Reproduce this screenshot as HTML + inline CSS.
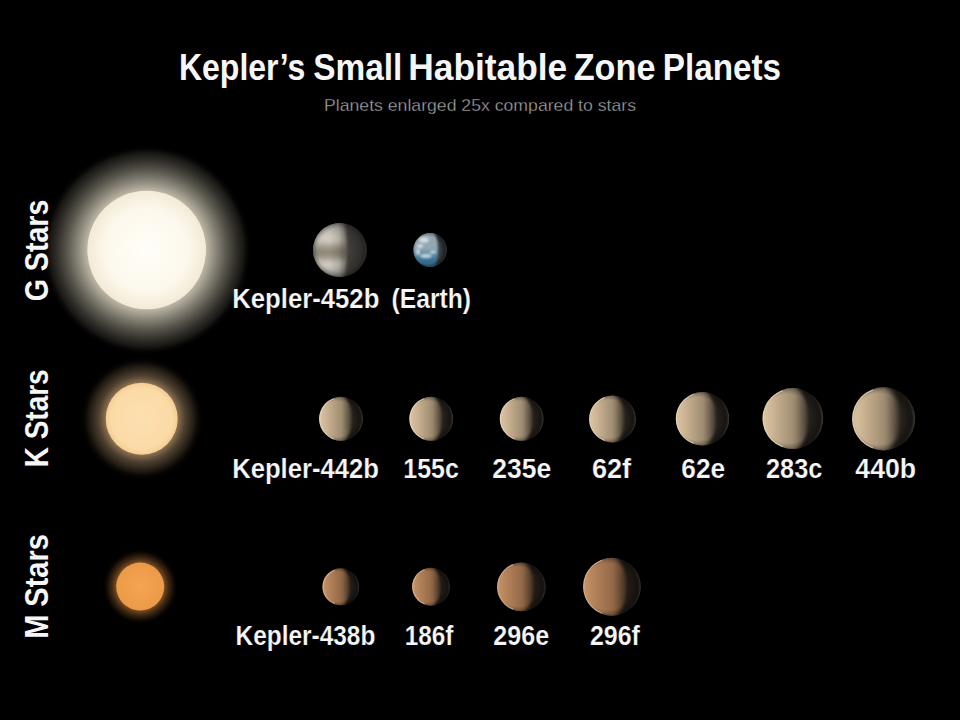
<!DOCTYPE html>
<html><head><meta charset="utf-8">
<style>
html,body{margin:0;padding:0;background:#000;width:960px;height:720px;overflow:hidden}
svg{display:block}
text{font-family:"Liberation Sans",sans-serif;font-weight:bold;fill:#f6f6f6;stroke:#000;stroke-width:0.2px}
</style></head>
<body>
<svg width="960" height="720" viewBox="0 0 960 720">
<defs>
  <!-- star glows -->
  <radialGradient id="gGlow" cx="0.5" cy="0.5" r="0.5">
    <stop offset="0" stop-color="#fffbee"/>
    <stop offset="0.55" stop-color="#f4ecdc"/>
    <stop offset="0.565" stop-color="#bcb6a6"/>
    <stop offset="0.667" stop-color="#868276"/>
    <stop offset="0.762" stop-color="#58554c"/>
    <stop offset="0.857" stop-color="#302e29"/>
    <stop offset="0.924" stop-color="#181714"/>
    <stop offset="1" stop-color="#000" stop-opacity="0"/>
  </radialGradient>
  <radialGradient id="gDisk" cx="0.5" cy="0.5" r="0.5">
    <stop offset="0" stop-color="#fffef8"/>
    <stop offset="0.7" stop-color="#fdf8ec"/>
    <stop offset="1" stop-color="#f3ead6"/>
  </radialGradient>
  <radialGradient id="kGlow" cx="0.5" cy="0.5" r="0.5">
    <stop offset="0.58" stop-color="#8a7050"/>
    <stop offset="0.7" stop-color="#4e4030"/>
    <stop offset="0.85" stop-color="#201a12"/>
    <stop offset="1" stop-color="#000" stop-opacity="0"/>
  </radialGradient>
  <radialGradient id="kDisk" cx="0.5" cy="0.5" r="0.5">
    <stop offset="0" stop-color="#fde0b0"/>
    <stop offset="0.85" stop-color="#fbdaa6"/>
    <stop offset="1" stop-color="#f4cc94"/>
  </radialGradient>
  <radialGradient id="mGlow" cx="0.5" cy="0.5" r="0.5">
    <stop offset="0.63" stop-color="#7a4a22"/>
    <stop offset="0.75" stop-color="#3e2812"/>
    <stop offset="0.88" stop-color="#140c06"/>
    <stop offset="1" stop-color="#000" stop-opacity="0"/>
  </radialGradient>
  <radialGradient id="mDisk" cx="0.5" cy="0.5" r="0.5">
    <stop offset="0" stop-color="#f6a450"/>
    <stop offset="1" stop-color="#eb9a48"/>
  </radialGradient>
  <!-- planet shading -->
  <linearGradient id="kPlanet" x1="0" y1="0" x2="1" y2="0">
    <stop offset="0" stop-color="#d9c29a"/>
    <stop offset="0.35" stop-color="#cfb790"/>
    <stop offset="0.62" stop-color="#9c8a6c"/>
    <stop offset="0.72" stop-color="#4a4034"/>
    <stop offset="1" stop-color="#2a241e"/>
  </linearGradient>
  <linearGradient id="mPlanet" x1="0" y1="0" x2="1" y2="0">
    <stop offset="0" stop-color="#c08a5a"/>
    <stop offset="0.35" stop-color="#b07848"/>
    <stop offset="0.62" stop-color="#7a5434"/>
    <stop offset="0.72" stop-color="#342418"/>
    <stop offset="1" stop-color="#1e1610"/>
  </linearGradient>
  <clipPath id="c452"><circle cx="340" cy="250" r="27.1"/></clipPath>
  <clipPath id="cEarth"><circle cx="430.2" cy="250" r="17"/></clipPath>
  <radialGradient id="d452" gradientUnits="userSpaceOnUse" cx="330" cy="250" r="38">
    <stop offset="0.4" stop-color="#46433e"/><stop offset="0.9" stop-color="#2c2a28"/><stop offset="1" stop-color="#363432"/>
  </radialGradient>
  <linearGradient id="v452" x1="0" y1="0" x2="0" y2="1">
    <stop offset="0.05" stop-color="#9a968e"/>
    <stop offset="0.2" stop-color="#c8c4ba"/>
    <stop offset="0.33" stop-color="#d6d2c6"/>
    <stop offset="0.45" stop-color="#a49c8c"/>
    <stop offset="0.55" stop-color="#8c8474"/>
    <stop offset="0.64" stop-color="#a8a294"/>
    <stop offset="0.74" stop-color="#dad6cc"/>
    <stop offset="0.86" stop-color="#b4b0a8"/>
    <stop offset="1" stop-color="#7a7670"/>
  </linearGradient>
  <linearGradient id="h452" gradientUnits="userSpaceOnUse" x1="313" y1="0" x2="346" y2="0">
    <stop offset="0" stop-color="#000" stop-opacity="0.05"/>
    <stop offset="0.5" stop-color="#000" stop-opacity="0"/>
    <stop offset="0.8" stop-color="#000" stop-opacity="0.15"/>
    <stop offset="1" stop-color="#000" stop-opacity="0.45"/>
  </linearGradient>
  <radialGradient id="dEarth" gradientUnits="userSpaceOnUse" cx="426" cy="250" r="21">
    <stop offset="0.5" stop-color="#3e464c"/><stop offset="0.9" stop-color="#2c3236"/><stop offset="1" stop-color="#363c40"/>
  </radialGradient>
  <linearGradient id="vEarth" x1="0" y1="0" x2="0" y2="1">
    <stop offset="0" stop-color="#9aa6ac"/>
    <stop offset="0.45" stop-color="#93a8b4"/>
    <stop offset="0.75" stop-color="#3a7496"/>
    <stop offset="1" stop-color="#2a5670"/>
  </linearGradient>
<clipPath id="ck0"><circle cx="341" cy="418.8" r="22"/></clipPath>
<linearGradient id="lk0" gradientUnits="userSpaceOnUse" x1="319" y1="0" x2="352.0" y2="0">
<stop offset="0" stop-color="#dcc6a6"/><stop offset="0.25" stop-color="#cab292"/><stop offset="0.7" stop-color="#9c8a70"/><stop offset="1" stop-color="#3e362c"/></linearGradient>
<radialGradient id="dk0" gradientUnits="userSpaceOnUse" cx="335.5" cy="418.8" r="27.5">
<stop offset="0.55" stop-color="#221e1a"/><stop offset="0.92" stop-color="#221e1a"/><stop offset="1" stop-color="#5a5650"/></radialGradient>
<clipPath id="ck1"><circle cx="431.2" cy="418.8" r="22"/></clipPath>
<linearGradient id="lk1" gradientUnits="userSpaceOnUse" x1="409.2" y1="0" x2="442.2" y2="0">
<stop offset="0" stop-color="#dcc6a6"/><stop offset="0.25" stop-color="#cab292"/><stop offset="0.7" stop-color="#9c8a70"/><stop offset="1" stop-color="#3e362c"/></linearGradient>
<radialGradient id="dk1" gradientUnits="userSpaceOnUse" cx="425.7" cy="418.8" r="27.5">
<stop offset="0.55" stop-color="#221e1a"/><stop offset="0.92" stop-color="#221e1a"/><stop offset="1" stop-color="#5a5650"/></radialGradient>
<clipPath id="ck2"><circle cx="521.7" cy="418.8" r="22"/></clipPath>
<linearGradient id="lk2" gradientUnits="userSpaceOnUse" x1="499.70000000000005" y1="0" x2="532.7" y2="0">
<stop offset="0" stop-color="#dcc6a6"/><stop offset="0.25" stop-color="#cab292"/><stop offset="0.7" stop-color="#9c8a70"/><stop offset="1" stop-color="#3e362c"/></linearGradient>
<radialGradient id="dk2" gradientUnits="userSpaceOnUse" cx="516.2" cy="418.8" r="27.5">
<stop offset="0.55" stop-color="#221e1a"/><stop offset="0.92" stop-color="#221e1a"/><stop offset="1" stop-color="#5a5650"/></radialGradient>
<clipPath id="ck3"><circle cx="612.5" cy="419" r="23.5"/></clipPath>
<linearGradient id="lk3" gradientUnits="userSpaceOnUse" x1="589.0" y1="0" x2="624.25" y2="0">
<stop offset="0" stop-color="#dcc6a6"/><stop offset="0.25" stop-color="#cab292"/><stop offset="0.7" stop-color="#9c8a70"/><stop offset="1" stop-color="#3e362c"/></linearGradient>
<radialGradient id="dk3" gradientUnits="userSpaceOnUse" cx="606.625" cy="419" r="29.375">
<stop offset="0.55" stop-color="#221e1a"/><stop offset="0.92" stop-color="#221e1a"/><stop offset="1" stop-color="#5a5650"/></radialGradient>
<clipPath id="ck4"><circle cx="702.5" cy="418.8" r="26.8"/></clipPath>
<linearGradient id="lk4" gradientUnits="userSpaceOnUse" x1="675.7" y1="0" x2="715.9" y2="0">
<stop offset="0" stop-color="#dcc6a6"/><stop offset="0.25" stop-color="#cab292"/><stop offset="0.7" stop-color="#9c8a70"/><stop offset="1" stop-color="#3e362c"/></linearGradient>
<radialGradient id="dk4" gradientUnits="userSpaceOnUse" cx="695.8" cy="418.8" r="33.5">
<stop offset="0.55" stop-color="#221e1a"/><stop offset="0.92" stop-color="#221e1a"/><stop offset="1" stop-color="#5a5650"/></radialGradient>
<clipPath id="ck5"><circle cx="792.9" cy="418.6" r="30.5"/></clipPath>
<linearGradient id="lk5" gradientUnits="userSpaceOnUse" x1="762.4" y1="0" x2="808.15" y2="0">
<stop offset="0" stop-color="#dcc6a6"/><stop offset="0.25" stop-color="#cab292"/><stop offset="0.7" stop-color="#9c8a70"/><stop offset="1" stop-color="#3e362c"/></linearGradient>
<radialGradient id="dk5" gradientUnits="userSpaceOnUse" cx="785.275" cy="418.6" r="38.125">
<stop offset="0.55" stop-color="#221e1a"/><stop offset="0.92" stop-color="#221e1a"/><stop offset="1" stop-color="#5a5650"/></radialGradient>
<clipPath id="ck6"><circle cx="883.6" cy="418.9" r="31.6"/></clipPath>
<linearGradient id="lk6" gradientUnits="userSpaceOnUse" x1="852.0" y1="0" x2="899.4" y2="0">
<stop offset="0" stop-color="#dcc6a6"/><stop offset="0.25" stop-color="#cab292"/><stop offset="0.7" stop-color="#9c8a70"/><stop offset="1" stop-color="#3e362c"/></linearGradient>
<radialGradient id="dk6" gradientUnits="userSpaceOnUse" cx="875.7" cy="418.9" r="39.5">
<stop offset="0.55" stop-color="#221e1a"/><stop offset="0.92" stop-color="#221e1a"/><stop offset="1" stop-color="#5a5650"/></radialGradient>
<clipPath id="cm0"><circle cx="340.8" cy="586.8" r="18.5"/></clipPath>
<linearGradient id="lm0" gradientUnits="userSpaceOnUse" x1="322.3" y1="0" x2="350.05" y2="0">
<stop offset="0" stop-color="#c69668"/><stop offset="0.25" stop-color="#b4825a"/><stop offset="0.7" stop-color="#926848"/><stop offset="1" stop-color="#3c2c1e"/></linearGradient>
<radialGradient id="dm0" gradientUnits="userSpaceOnUse" cx="336.175" cy="586.8" r="23.125">
<stop offset="0.55" stop-color="#201a16"/><stop offset="0.92" stop-color="#201a16"/><stop offset="1" stop-color="#4a4440"/></radialGradient>
<clipPath id="cm1"><circle cx="431" cy="586.7" r="19"/></clipPath>
<linearGradient id="lm1" gradientUnits="userSpaceOnUse" x1="412" y1="0" x2="440.5" y2="0">
<stop offset="0" stop-color="#c69668"/><stop offset="0.25" stop-color="#b4825a"/><stop offset="0.7" stop-color="#926848"/><stop offset="1" stop-color="#3c2c1e"/></linearGradient>
<radialGradient id="dm1" gradientUnits="userSpaceOnUse" cx="426.25" cy="586.7" r="23.75">
<stop offset="0.55" stop-color="#201a16"/><stop offset="0.92" stop-color="#201a16"/><stop offset="1" stop-color="#4a4440"/></radialGradient>
<clipPath id="cm2"><circle cx="521.4" cy="586.9" r="24.4"/></clipPath>
<linearGradient id="lm2" gradientUnits="userSpaceOnUse" x1="497.0" y1="0" x2="533.6" y2="0">
<stop offset="0" stop-color="#c69668"/><stop offset="0.25" stop-color="#b4825a"/><stop offset="0.7" stop-color="#926848"/><stop offset="1" stop-color="#3c2c1e"/></linearGradient>
<radialGradient id="dm2" gradientUnits="userSpaceOnUse" cx="515.3" cy="586.9" r="30.5">
<stop offset="0.55" stop-color="#201a16"/><stop offset="0.92" stop-color="#201a16"/><stop offset="1" stop-color="#4a4440"/></radialGradient>
<clipPath id="cm3"><circle cx="612" cy="586.7" r="29"/></clipPath>
<linearGradient id="lm3" gradientUnits="userSpaceOnUse" x1="583" y1="0" x2="626.5" y2="0">
<stop offset="0" stop-color="#c69668"/><stop offset="0.25" stop-color="#b4825a"/><stop offset="0.7" stop-color="#926848"/><stop offset="1" stop-color="#3c2c1e"/></linearGradient>
<radialGradient id="dm3" gradientUnits="userSpaceOnUse" cx="604.75" cy="586.7" r="36.25">
<stop offset="0.55" stop-color="#201a16"/><stop offset="0.92" stop-color="#201a16"/><stop offset="1" stop-color="#4a4440"/></radialGradient>
<radialGradient id="limbdark2" cx="0.5" cy="0.5" r="0.5"><stop offset="0.8" stop-color="#000" stop-opacity="0"/><stop offset="1" stop-color="#000" stop-opacity="0.2"/></radialGradient>
<radialGradient id="limbdark" cx="0.42" cy="0.5" r="0.5"><stop offset="0.8" stop-color="#000" stop-opacity="0"/><stop offset="1" stop-color="#000" stop-opacity="0.3"/></radialGradient>
<filter id="bl6" x="-30%" y="-30%" width="160%" height="160%"><feGaussianBlur stdDeviation="0.6"/></filter>
<filter id="bl10" x="-30%" y="-30%" width="160%" height="160%"><feGaussianBlur stdDeviation="1.0"/></filter>
<filter id="bl11" x="-30%" y="-30%" width="160%" height="160%"><feGaussianBlur stdDeviation="1.1"/></filter>
<filter id="bl12" x="-30%" y="-30%" width="160%" height="160%"><feGaussianBlur stdDeviation="1.2"/></filter>
<filter id="bl13" x="-30%" y="-30%" width="160%" height="160%"><feGaussianBlur stdDeviation="1.3"/></filter>
<filter id="bl14" x="-30%" y="-30%" width="160%" height="160%"><feGaussianBlur stdDeviation="1.4"/></filter>
<filter id="bl15" x="-30%" y="-30%" width="160%" height="160%"><feGaussianBlur stdDeviation="1.5"/></filter>
<filter id="bl16" x="-30%" y="-30%" width="160%" height="160%"><feGaussianBlur stdDeviation="1.6"/></filter>
<filter id="bl17" x="-30%" y="-30%" width="160%" height="160%"><feGaussianBlur stdDeviation="1.7"/></filter>
<filter id="bl18" x="-30%" y="-30%" width="160%" height="160%"><feGaussianBlur stdDeviation="1.8"/></filter>
<filter id="bl19" x="-30%" y="-30%" width="160%" height="160%"><feGaussianBlur stdDeviation="1.9"/></filter>
<filter id="bl22" x="-30%" y="-30%" width="160%" height="160%"><feGaussianBlur stdDeviation="2.2"/></filter>
</defs>
<rect width="960" height="720" fill="#000"/>

<!-- title -->
<text x="324" y="110.5" font-size="17" font-weight="normal" style="font-weight:normal;fill:#a0a0a0;stroke:#000;stroke-width:0.3px" textLength="312" lengthAdjust="spacingAndGlyphs">Planets enlarged 25x compared to stars</text>

<!-- stars -->
<circle cx="146.7" cy="250" r="105" fill="url(#gGlow)"/>
<circle cx="146.7" cy="250" r="59.3" fill="url(#gDisk)"/>
<circle cx="141.7" cy="418.8" r="62" fill="url(#kGlow)"/>
<circle cx="141.7" cy="418.8" r="36" fill="url(#kDisk)"/>
<circle cx="140.2" cy="586.6" r="38" fill="url(#mGlow)"/>
<circle cx="140.2" cy="586.6" r="24" fill="url(#mDisk)"/>

<!-- row labels (rotated) -->
<text transform="translate(48.3,301.3) rotate(-90)" style="stroke:none" font-size="33" textLength="101.6" lengthAdjust="spacingAndGlyphs">G Stars</text>
<text transform="translate(48.3,467.2) rotate(-90)" style="stroke:none" font-size="33" textLength="97.8" lengthAdjust="spacingAndGlyphs">K Stars</text>
<text transform="translate(48.3,638.8) rotate(-90)" style="stroke:none" font-size="33" textLength="104.6" lengthAdjust="spacingAndGlyphs">M Stars</text>

<!-- G row planets -->
<g clip-path="url(#c452)">
<circle cx="340" cy="250" r="27.1" fill="url(#d452)"/>
<g filter="url(#bl22)">
<path d="M341,221 A29,29 0 0 0 341,279 A4,29 0 0 0 341,221Z" fill="url(#v452)"/>
</g>
<path d="M341,221 A29,29 0 0 0 341,279 A3,29 0 0 0 341,221Z" fill="url(#h452)" filter="url(#bl15)"/>
<circle cx="340" cy="250" r="27.1" fill="url(#limbdark2)"/>
</g>
<g clip-path="url(#cEarth)">
<circle cx="430.2" cy="250" r="17" fill="url(#dEarth)"/>
<path d="M432,231 A19,19 0 0 0 432,269 A6,19 0 0 0 432,231Z" fill="url(#vEarth)" filter="url(#bl12)"/>
<g filter="url(#bl10)" fill="#e8eef2" opacity="0.7">
<ellipse cx="424" cy="240" rx="5" ry="3"/>
<ellipse cx="420" cy="246" rx="3" ry="2"/>
<ellipse cx="426" cy="256" rx="6" ry="2.2"/>
<ellipse cx="433" cy="252" rx="3" ry="1.6"/>
<ellipse cx="418" cy="252" rx="2" ry="3"/>
</g>
<circle cx="430.2" cy="250" r="17" fill="url(#limbdark)"/>
</g>

<g clip-path="url(#ck0)">
<circle cx="341" cy="418.8" r="22" fill="url(#dk0)"/>
<path d="M341,395.7 A23.1,23.1 0 0 0 341,441.90000000000003 A11.0,23.1 0 0 0 341,395.7Z" fill="url(#lk0)" filter="url(#bl13)"/>
<circle cx="341" cy="418.8" r="22" fill="url(#limbdark)"/>
<path d="M333.76,398.78 A21.30,21.30 0 0 0 333.76,438.82" fill="none" stroke="#f4e4c8" stroke-width="1.2" opacity="0.65" filter="url(#bl6)"/>
</g>
<g clip-path="url(#ck1)">
<circle cx="431.2" cy="418.8" r="22" fill="url(#dk1)"/>
<path d="M431.2,395.7 A23.1,23.1 0 0 0 431.2,441.90000000000003 A11.0,23.1 0 0 0 431.2,395.7Z" fill="url(#lk1)" filter="url(#bl13)"/>
<circle cx="431.2" cy="418.8" r="22" fill="url(#limbdark)"/>
<path d="M423.96,398.78 A21.30,21.30 0 0 0 423.96,438.82" fill="none" stroke="#f4e4c8" stroke-width="1.2" opacity="0.65" filter="url(#bl6)"/>
</g>
<g clip-path="url(#ck2)">
<circle cx="521.7" cy="418.8" r="22" fill="url(#dk2)"/>
<path d="M521.7,395.7 A23.1,23.1 0 0 0 521.7,441.90000000000003 A11.0,23.1 0 0 0 521.7,395.7Z" fill="url(#lk2)" filter="url(#bl13)"/>
<circle cx="521.7" cy="418.8" r="22" fill="url(#limbdark)"/>
<path d="M514.46,398.78 A21.30,21.30 0 0 0 514.46,438.82" fill="none" stroke="#f4e4c8" stroke-width="1.2" opacity="0.65" filter="url(#bl6)"/>
</g>
<g clip-path="url(#ck3)">
<circle cx="612.5" cy="419" r="23.5" fill="url(#dk3)"/>
<path d="M612.5,394.325 A24.675,24.675 0 0 0 612.5,443.675 A11.75,24.675 0 0 0 612.5,394.325Z" fill="url(#lk3)" filter="url(#bl14)"/>
<circle cx="612.5" cy="419" r="23.5" fill="url(#limbdark)"/>
<path d="M604.75,397.57 A22.80,22.80 0 0 0 604.75,440.43" fill="none" stroke="#f4e4c8" stroke-width="1.2" opacity="0.65" filter="url(#bl6)"/>
</g>
<g clip-path="url(#ck4)">
<circle cx="702.5" cy="418.8" r="26.8" fill="url(#dk4)"/>
<path d="M702.5,390.66 A28.14,28.14 0 0 0 702.5,446.94 A13.4,28.14 0 0 0 702.5,390.66Z" fill="url(#lk4)" filter="url(#bl16)"/>
<circle cx="702.5" cy="418.8" r="26.8" fill="url(#limbdark)"/>
<path d="M693.63,394.27 A26.10,26.10 0 0 0 693.63,443.33" fill="none" stroke="#f4e4c8" stroke-width="1.2" opacity="0.65" filter="url(#bl6)"/>
</g>
<g clip-path="url(#ck5)">
<circle cx="792.9" cy="418.6" r="30.5" fill="url(#dk5)"/>
<path d="M792.9,386.57500000000005 A32.025,32.025 0 0 0 792.9,450.625 A15.25,32.025 0 0 0 792.9,386.57500000000005Z" fill="url(#lk5)" filter="url(#bl18)"/>
<circle cx="792.9" cy="418.6" r="30.5" fill="url(#limbdark)"/>
<path d="M782.77,390.59 A29.80,29.80 0 0 0 782.77,446.61" fill="none" stroke="#f4e4c8" stroke-width="1.2" opacity="0.65" filter="url(#bl6)"/>
</g>
<g clip-path="url(#ck6)">
<circle cx="883.6" cy="418.9" r="31.6" fill="url(#dk6)"/>
<path d="M883.6,385.71999999999997 A33.18,33.18 0 0 0 883.6,452.08 A15.8,33.18 0 0 0 883.6,385.71999999999997Z" fill="url(#lk6)" filter="url(#bl19)"/>
<circle cx="883.6" cy="418.9" r="31.6" fill="url(#limbdark)"/>
<path d="M873.09,389.85 A30.90,30.90 0 0 0 873.09,447.95" fill="none" stroke="#f4e4c8" stroke-width="1.2" opacity="0.65" filter="url(#bl6)"/>
</g>
<g clip-path="url(#cm0)">
<circle cx="340.8" cy="586.8" r="18.5" fill="url(#dm0)"/>
<path d="M340.8,567.375 A19.425,19.425 0 0 0 340.8,606.2249999999999 A9.25,19.425 0 0 0 340.8,567.375Z" fill="url(#lm0)" filter="url(#bl11)"/>
<circle cx="340.8" cy="586.8" r="18.5" fill="url(#limbdark)"/>
<path d="M334.75,570.07 A17.80,17.80 0 0 0 334.75,603.53" fill="none" stroke="#e8c0a0" stroke-width="1.2" opacity="0.65" filter="url(#bl6)"/>
</g>
<g clip-path="url(#cm1)">
<circle cx="431" cy="586.7" r="19" fill="url(#dm1)"/>
<path d="M431,566.75 A19.95,19.95 0 0 0 431,606.6500000000001 A9.5,19.95 0 0 0 431,566.75Z" fill="url(#lm1)" filter="url(#bl11)"/>
<circle cx="431" cy="586.7" r="19" fill="url(#limbdark)"/>
<path d="M424.78,569.50 A18.30,18.30 0 0 0 424.78,603.90" fill="none" stroke="#e8c0a0" stroke-width="1.2" opacity="0.65" filter="url(#bl6)"/>
</g>
<g clip-path="url(#cm2)">
<circle cx="521.4" cy="586.9" r="24.4" fill="url(#dm2)"/>
<path d="M521.4,561.28 A25.62,25.62 0 0 0 521.4,612.52 A12.2,25.62 0 0 0 521.4,561.28Z" fill="url(#lm2)" filter="url(#bl15)"/>
<circle cx="521.4" cy="586.9" r="24.4" fill="url(#limbdark)"/>
<path d="M513.34,564.62 A23.70,23.70 0 0 0 513.34,609.18" fill="none" stroke="#e8c0a0" stroke-width="1.2" opacity="0.65" filter="url(#bl6)"/>
</g>
<g clip-path="url(#cm3)">
<circle cx="612" cy="586.7" r="29" fill="url(#dm3)"/>
<path d="M612,556.25 A30.450000000000003,30.450000000000003 0 0 0 612,617.1500000000001 A14.5,30.450000000000003 0 0 0 612,556.25Z" fill="url(#lm3)" filter="url(#bl17)"/>
<circle cx="612" cy="586.7" r="29" fill="url(#limbdark)"/>
<path d="M602.38,560.10 A28.30,28.30 0 0 0 602.38,613.30" fill="none" stroke="#e8c0a0" stroke-width="1.2" opacity="0.65" filter="url(#bl6)"/>
</g>
<text x="178.90" y="79.6" font-size="36" textLength="126.38" lengthAdjust="spacingAndGlyphs" style="stroke:none">Kepler’s</text>
<text x="313.20" y="79.6" font-size="36" textLength="89.11" lengthAdjust="spacingAndGlyphs" style="stroke:none">Small</text>
<text x="408.27" y="79.6" font-size="36" textLength="158.98" lengthAdjust="spacingAndGlyphs" style="stroke:none">Habitable</text>
<text x="573.72" y="79.6" font-size="36" textLength="81.72" lengthAdjust="spacingAndGlyphs" style="stroke:none">Zone</text>
<text x="662.73" y="79.6" font-size="36" textLength="118.28" lengthAdjust="spacingAndGlyphs" style="stroke:none">Planets</text>
<text x="232.23" y="308.0" font-size="27.5" textLength="147.13" lengthAdjust="spacingAndGlyphs">Kepler-452b</text>
<text x="391.50" y="308.0" font-size="27.5" textLength="79.59" lengthAdjust="spacingAndGlyphs">(Earth)</text>
<text x="232.15" y="477.5" font-size="27.5" textLength="146.85" lengthAdjust="spacingAndGlyphs">Kepler-442b</text>
<text x="403.32" y="477.5" font-size="27.5" textLength="55.59" lengthAdjust="spacingAndGlyphs">155c</text>
<text x="492.32" y="477.5" font-size="27.5" textLength="58.91" lengthAdjust="spacingAndGlyphs">235e</text>
<text x="591.91" y="477.5" font-size="27.5" textLength="39.23" lengthAdjust="spacingAndGlyphs">62f</text>
<text x="681.30" y="477.5" font-size="27.5" textLength="43.83" lengthAdjust="spacingAndGlyphs">62e</text>
<text x="766.02" y="477.5" font-size="27.5" textLength="56.43" lengthAdjust="spacingAndGlyphs">283c</text>
<text x="855.34" y="477.5" font-size="27.5" textLength="60.80" lengthAdjust="spacingAndGlyphs">440b</text>
<text x="235.55" y="645.3" font-size="27.5" textLength="139.77" lengthAdjust="spacingAndGlyphs">Kepler-438b</text>
<text x="404.78" y="645.3" font-size="27.5" textLength="48.69" lengthAdjust="spacingAndGlyphs">186f</text>
<text x="493.29" y="645.3" font-size="27.5" textLength="55.83" lengthAdjust="spacingAndGlyphs">296e</text>
<text x="589.90" y="645.3" font-size="27.5" textLength="50.03" lengthAdjust="spacingAndGlyphs">296f</text>
</svg>
</body></html>
